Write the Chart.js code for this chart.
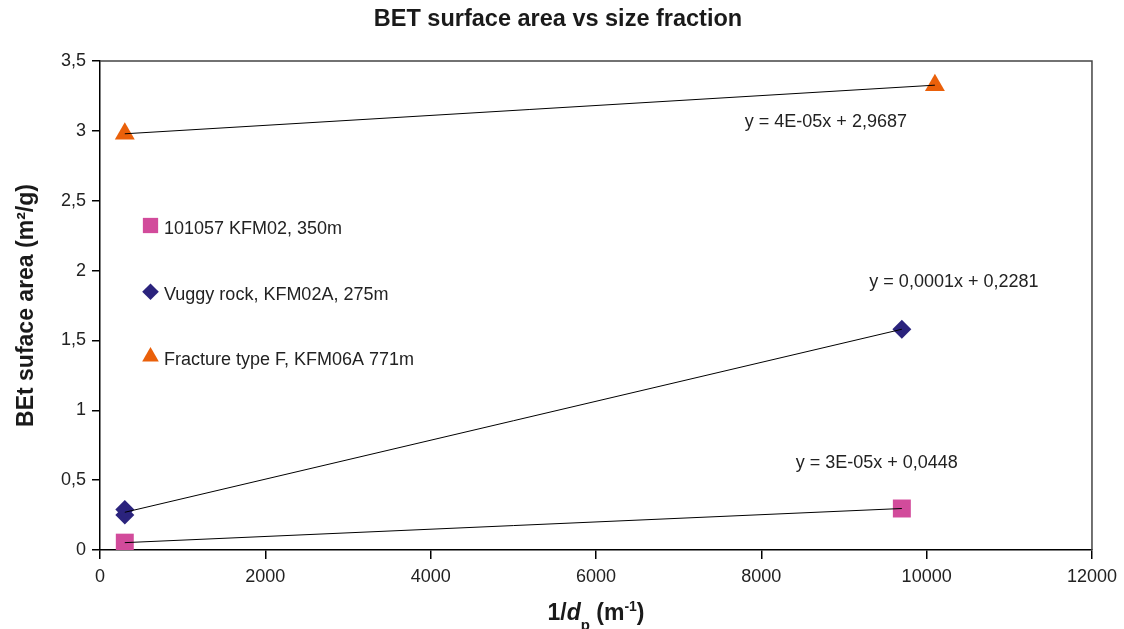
<!DOCTYPE html>
<html>
<head>
<meta charset="utf-8">
<title>BET surface area vs size fraction</title>
<script src="https://cdn.jsdelivr.net/npm/chart.js@4/dist/chart.umd.min.js"></script>
<style>
  html, body { margin: 0; padding: 0; background: #fff; }
  #wrap { width: 1124px; height: 629px; }
</style>
</head>
<body>
<div id="wrap"><canvas id="chart" width="1124" height="629"></canvas></div>
<script>
// measured samples, 1/dp in m-1 against BET surface area in m2/g
const seriesNames = ['101057 KFM02, 350m', 'Vuggy rock, KFM02A, 275m', 'Fracture type F, KFM06A 771m'];
const pinkX = [300, 9700];
const pinkY = [0.0526, 0.297];
const vuggyX = [300, 300, 9700];
const vuggyY = [0.25, 0.29, 1.58];
const fractureX = [300, 10100];
const fractureY = [2.979, 3.327];
const trendLabels = ['y = 3E-05x + 0,0448', 'y = 0,0001x + 0,2281', 'y = 4E-05x + 2,9687'];
const xTicks = [0, 2000, 4000, 6000, 8000, 10000, 12000];
const yTicks = [0, 0.5, 1, 1.5, 2, 2.5, 3, 3.5];

const FONT = '"Liberation Sans", Arial, Helvetica, sans-serif';
const colors = ['#d24b9b', '#2b237d', '#ea600a'];
const styles = ['rect', 'rectRot', 'triangle'];
const radii = [12.7, 9.5, 11.5];

// least squares fit, drawn between the smallest and largest x
function trend(xs, ys) {
  const n = xs.length;
  const mx = xs.reduce((a, b) => a + b, 0) / n;
  const my = ys.reduce((a, b) => a + b, 0) / n;
  let sxy = 0, sxx = 0;
  xs.forEach((x, i) => { sxy += (x - mx) * (ys[i] - my); sxx += (x - mx) * (x - mx); });
  const slope = sxy / sxx;
  const icpt = my - slope * mx;
  const x0 = Math.min(...xs), x1 = Math.max(...xs);
  return [{ x: x0, y: icpt + slope * x0 }, { x: x1, y: icpt + slope * x1 }];
}

const series = [[pinkX, pinkY], [vuggyX, vuggyY], [fractureX, fractureY]];

const datasets = [];
series.forEach(([xs, ys], i) => {
  datasets.push({
    label: seriesNames[i],
    data: xs.map((x, j) => ({ x, y: ys[j] })),
    showLine: false,
    pointStyle: styles[i],
    pointRadius: radii[i],
    pointBackgroundColor: colors[i],
    pointBorderWidth: 0,
    order: 1,
  });
});
series.forEach(([xs, ys], i) => {
  datasets.push({
    label: 'trend ' + i,
    data: trend(xs, ys),
    showLine: true,
    borderColor: '#000',
    borderWidth: 1,
    pointRadius: 0,
    fill: false,
    order: 0,
  });
});

// where each trend equation sits, in axis units
const labelPos = [{ x: 9396, y: 0.626 }, { x: 10330, y: 1.92 }, { x: 8781, y: 3.06 }];

const framePlugin = {
  id: 'frame',
  afterDraw(chart) {
    const { ctx, chartArea: a } = chart;
    ctx.save();
    ctx.strokeStyle = '#444';
    ctx.lineWidth = 1.5;
    ctx.beginPath();
    ctx.moveTo(a.left, a.top);
    ctx.lineTo(a.right, a.top);
    ctx.lineTo(a.right, a.bottom);
    ctx.stroke();
    ctx.restore();
  }
};

const labelsPlugin = {
  id: 'labels',
  afterDatasetsDraw(chart) {
    const { ctx, chartArea: a, scales } = chart;
    ctx.save();

    // heading
    ctx.fillStyle = '#1a1a1a';
    ctx.font = 'bold 23.5px ' + FONT;
    ctx.textAlign = 'center';
    ctx.textBaseline = 'middle';
    ctx.fillText('BET surface area vs size fraction', 558, 20);

    ctx.fillStyle = '#222';
    ctx.font = '18px ' + FONT;

    // trend equations
    trendLabels.forEach((t, i) => {
      ctx.fillText(t, scales.x.getPixelForValue(labelPos[i].x), scales.y.getPixelForValue(labelPos[i].y));
    });

    // legend inside the plot
    ctx.textAlign = 'left';
    const rowY = [164.5, 230.7, 295.7];
    const legR = [10.8, 8.3, 9.6];
    seriesNames.forEach((name, i) => {
      const mx = a.left + 50.5, my = a.top + rowY[i];
      ctx.fillStyle = colors[i];
      Chart.helpers.drawPoint(ctx, { pointStyle: styles[i], radius: legR[i], rotation: 0, borderWidth: 0 }, mx, my);
      ctx.fillStyle = '#222';
      ctx.fillText(name, a.left + 64, my + 3.5);
    });

    // x axis title with italic d and sub/superscripts
    const parts = [
      { t: '1/', f: 'bold 23px ' + FONT, dy: 0 },
      { t: 'd', f: 'italic bold 23px ' + FONT, dy: 0 },
      { t: 'p', f: 'bold 15px ' + FONT, dy: 10 },
      { t: ' (m', f: 'bold 23px ' + FONT, dy: 0 },
      { t: '-1', f: 'bold 14px ' + FONT, dy: -9 },
      { t: ')', f: 'bold 23px ' + FONT, dy: 0 },
    ];
    let w = 0;
    parts.forEach(p => { ctx.font = p.f; p.w = ctx.measureText(p.t).width; w += p.w; });
    let x = (a.left + a.right) / 2 - w / 2;
    ctx.textBaseline = 'alphabetic';
    ctx.fillStyle = '#1a1a1a';
    parts.forEach(p => {
      ctx.font = p.f;
      ctx.fillText(p.t, x, 620 + p.dy);
      x += p.w;
    });
    ctx.restore();
  }
};

new Chart(document.getElementById('chart'), {
  type: 'scatter',
  data: { datasets },
  options: {
    responsive: false,
    animation: false,
    layout: { padding: { left: 0, right: 28, top: 61, bottom: 0 } },
    plugins: {
      legend: { display: false },
      tooltip: { enabled: false },
      title: { display: false },
    },
    scales: {
      x: {
        type: 'linear',
        min: 0,
        max: 12000,
        afterBuildTicks(scale) { scale.ticks = xTicks.map(v => ({ value: v })); },
        afterFit(scale) { scale.height = 79; },
        ticks: {
          color: '#222',
          font: { family: FONT, size: 18 },
          padding: 7,
          maxRotation: 0,
          callback: v => String(v),
        },
        grid: { drawOnChartArea: false, tickLength: 9, color: '#000', lineWidth: 1.5 },
        border: { color: '#000', width: 1.5 },
      },
      y: {
        type: 'linear',
        min: 0,
        max: 3.5,
        afterBuildTicks(scale) { scale.ticks = yTicks.map(v => ({ value: v })); },
        afterFit(scale) { scale.width = 100; },
        ticks: {
          color: '#222',
          font: { family: FONT, size: 18 },
          padding: 6,
          callback: v => String(v).replace('.', ','),
        },
        grid: { drawOnChartArea: false, tickLength: 8, color: '#000', lineWidth: 1.5 },
        border: { color: '#000', width: 1.5 },
        title: {
          display: true,
          text: 'BEt suface area (m²/g)',
          color: '#1a1a1a',
          font: { family: FONT, size: 23, weight: 'bold' },
          padding: { top: 13, bottom: 0 },
        },
      },
    },
  },
  plugins: [framePlugin, labelsPlugin],
});
</script>
</body>
</html>
